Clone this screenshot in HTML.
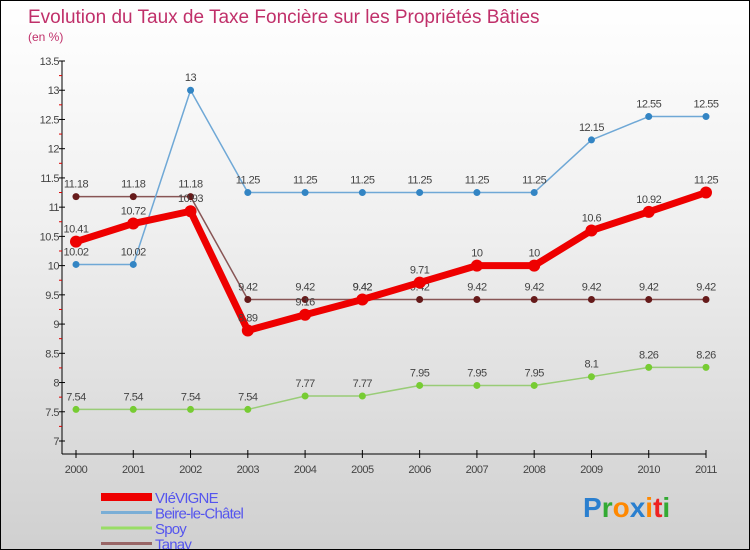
<!DOCTYPE html>
<html><head><meta charset="utf-8"><style>
body{margin:0;}
#c{width:748px;height:548px;border:1px solid #000;background:linear-gradient(#fff,#f0f0f0 40%,#d0d0d0);position:relative;overflow:hidden;font-family:"Liberation Sans",sans-serif;}
svg{position:absolute;left:0;top:0;}
</style></head><body>
<div id="c">
<svg id="s" width="750" height="550">
<text x="27" y="22" font-size="19" fill="#c0306a">Evolution du Taux de Taxe Foncière sur les Propriétés Bâties</text>
<text x="27" y="40" font-size="12" fill="#c0306a">(en %)</text>
</svg>
</div>
<script>
const years=["2000","2001","2002","2003","2004","2005","2006","2007","2008","2009","2010","2011"];
const vievigne=[10.41,10.72,10.93,8.89,9.16,9.42,9.71,10,10,10.6,10.92,11.25];
const beire=[10.02,10.02,13,11.25,11.25,11.25,11.25,11.25,11.25,12.15,12.55,12.55];
const spoy=[7.54,7.54,7.54,7.54,7.77,7.77,7.95,7.95,7.95,8.1,8.26,8.26];
const tanay=[11.18,11.18,11.18,9.42,9.42,9.42,9.42,9.42,9.42,9.42,9.42,9.42];
const yTicks=[7,7.5,8,8.5,9,9.5,10,10.5,11,11.5,12,12.5,13,13.5];
const NS="http://www.w3.org/2000/svg";
const s=document.getElementById('s');
const X=i=>75+i*(630/11);
const Y=v=>60+(13.5-v)*(380/6.5);
function mk(t,a,p){const e=document.createElementNS(NS,t);for(const k in a)e.setAttribute(k,a[k]);(p||s).appendChild(e);return e;}
const ax=mk('g',{});


mk('line',{x1:61,y1:60,x2:61,y2:453,stroke:'#000'},ax);
mk('line',{x1:61,y1:453,x2:705,y2:453,stroke:'#000'},ax);
yTicks.forEach(v=>{
  const y=Y(v);
  mk('line',{x1:58,y1:y,x2:64,y2:y,stroke:'#000'},ax);
  mk('line',{x1:58,y1:y+14.6,x2:61,y2:y+14.6,stroke:v>7?'#d00':'none'},ax);
  const t=mk('text',{x:58,y:y+4,'font-size':11,fill:'#444','text-anchor':'end','letter-spacing':'-0.5'},ax);
  t.textContent=String(v);
  
  
});
years.forEach((yr,i)=>{
  mk('line',{x1:X(i),y1:449,x2:X(i),y2:457,stroke:'#000'},ax);
  const t=mk('text',{x:X(i),y:472,'font-size':11,fill:'#444','text-anchor':'middle','letter-spacing':'-0.5'},ax);
  t.textContent=yr;
  
  
});
function series(name,vals,color,dot,w,r){
  const g=mk('g',{});
  
  
  mk('polyline',{points:vals.map((v,i)=>X(i)+','+Y(v)).join(' '),fill:'none',stroke:color,'stroke-width':w,'stroke-linejoin':'round'},g);
  vals.forEach((v,i)=>{
    const c=mk('circle',{cx:X(i),cy:Y(v),r:r,fill:dot},g);
    
    
    const t=mk('text',{x:X(i),y:Y(v)-9,'font-size':11,fill:'#444','text-anchor':'middle','letter-spacing':'-0.5'},g);
    t.textContent=String(v);
    
    
  });
}
series('spoy',spoy,'#99cc77','#77cc33',1.5,3.5);
series('tanay',tanay,'#885555','#661a1a',1.5,3.5);
series('beire',beire,'#6fa8d6','#3385c4',1.5,3.5);
series('vievigne',vievigne,'#ee0000','#ee0000',7,6);
const names=["VIéVIGNE","Beire-le-Châtel","Spoy","Tanay"];
const cols=['#ee0000','#7aaed6','#99dd66','#996666'];
const ws=[8,3,3,3];
names.forEach((n,i)=>{
  const y=496+i*15.5;
  const g=mk('g',{});
  
  
  mk('line',{x1:100,y1:y,x2:151,y2:y,stroke:cols[i],'stroke-width':ws[i]},g);
  const t=mk('text',{x:154,y:y+6,'font-size':15,fill:'#5555ee','letter-spacing':'-0.8'},g);
  t.textContent=n;
});
const lg=mk('text',{x:582,y:516,'font-size':28,'font-weight':'bold'});


[['P','#2a7fcf'],['r','#33aa33'],['o','#ff8800'],['x','#2a7fcf'],['i','#ff8800'],['t','#ee2222'],['i','#33aa33']].forEach(([c,f])=>{const sp=mk('tspan',{fill:f},lg);sp.textContent=c;});
</script>
</body></html>
